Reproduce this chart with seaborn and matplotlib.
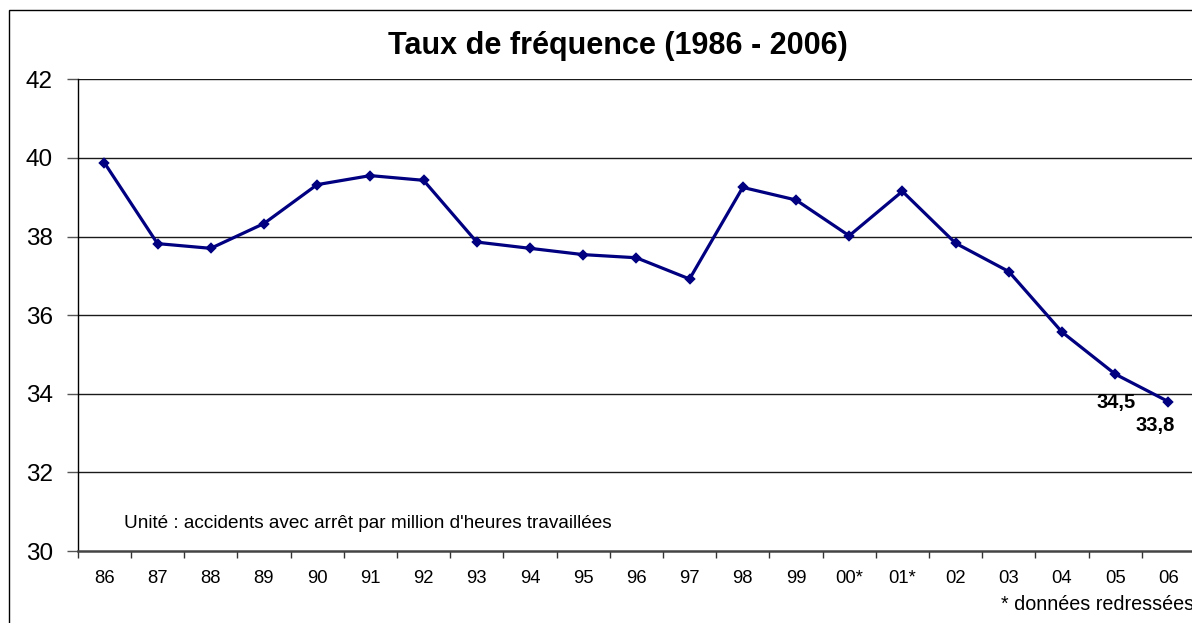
import numpy as np
import pandas as pd
import matplotlib
matplotlib.use("Agg")
import matplotlib.pyplot as plt
from matplotlib.patches import Rectangle
import seaborn as sns

# donnees
annees = ["86", "87", "88", "89", "90", "91", "92", "93", "94", "95", "96",
          "97", "98", "99", "00*", "01*", "02", "03", "04", "05", "06"]
taux = [39.88, 37.82, 37.70, 38.33, 39.32, 39.55, 39.43, 37.86, 37.70, 37.54,
        37.46, 36.92, 39.25, 38.93, 38.02, 39.15, 37.83, 37.11, 35.57, 34.5, 33.8]
y_ticks = [30, 32, 34, 36, 38, 40, 42]
etiquettes = {"05": "34,5", "06": "33,8"}

df = pd.DataFrame({"annee": annees, "taux": taux})

sns.set_theme(style="white")
plt.rcParams["font.family"] = ["Liberation Sans", "DejaVu Sans"]
plt.rcParams["text.color"] = "black"
plt.rcParams["xtick.color"] = "black"
plt.rcParams["ytick.color"] = "black"

W, H = 1192, 623
fig = plt.figure(figsize=(W / 100, H / 100), dpi=100)
ax = fig.add_axes([77.7 / W, 1 - 551 / H, (1195 - 77.7) / W, (551 - 79.3) / H])

sns.pointplot(data=df, x="annee", y="taux", ax=ax, color="#000080",
              markers="D", markersize=4, linewidth=2.3, errorbar=None)

ax.set_xlim(-0.5, len(annees) - 0.5)
ax.set_ylim(30, 42)
ax.set_yticks(y_ticks)
ax.set_yticklabels([str(v) for v in y_ticks])
ax.set_xlabel("")
ax.set_ylabel("")

# grille horizontale
for v in y_ticks[1:]:
    ax.axhline(v, color="#1a1a1a", lw=1.0, zorder=0)

for s in ["top", "right"]:
    ax.spines[s].set_visible(False)
ax.spines["left"].set_color("black")
ax.spines["left"].set_linewidth(1.0)
ax.spines["bottom"].set_color("#444444")
ax.spines["bottom"].set_linewidth(1.8)

ax.tick_params(axis="y", which="major", left=True, length=8, width=1,
               color="#555555", labelsize=17.5, pad=10)
ax.set_xticks(np.arange(len(annees)))
ax.set_xticklabels(annees)
ax.set_xticks(np.arange(len(annees) + 1) - 0.5, minor=True)
ax.tick_params(axis="x", which="major", bottom=False, labelsize=13.3, pad=7.5)
ax.tick_params(axis="x", which="minor", bottom=True, length=5, width=1,
               color="#333333")

# valeurs des deux dernieres annees
decalages = {"05": (1, -28), "06": (-13, -24)}
for an, txt in etiquettes.items():
    i = annees.index(an)
    dx, dy = decalages[an]
    ax.annotate(txt, xy=(i, taux[i]), xytext=(dx * 0.72, dy * 0.72),
                textcoords="offset points", ha="center", va="center",
                fontsize=14.5, fontweight="bold", color="black")

fig.text(618 / W, 1 - 46 / H, "Taux de fréquence (1986 - 2006)",
         ha="center", va="center", fontsize=22, fontweight="bold")
fig.text(124 / W, 1 - 523 / H,
         "Unité : accidents avec arrêt par million d'heures travaillées",
         ha="left", va="center", fontsize=13.7)
fig.text(1001 / W, 1 - 605 / H, "* données redressées",
         ha="left", va="center", fontsize=14.2)

# cadre exterieur
fig.add_artist(Rectangle((9 / W, -0.1), 1.2, 1 - 10 / H + 0.1, fill=False,
                         edgecolor="black", lw=1.0, transform=fig.transFigure,
                         clip_on=False))

fig.savefig("out.png", dpi=100)
